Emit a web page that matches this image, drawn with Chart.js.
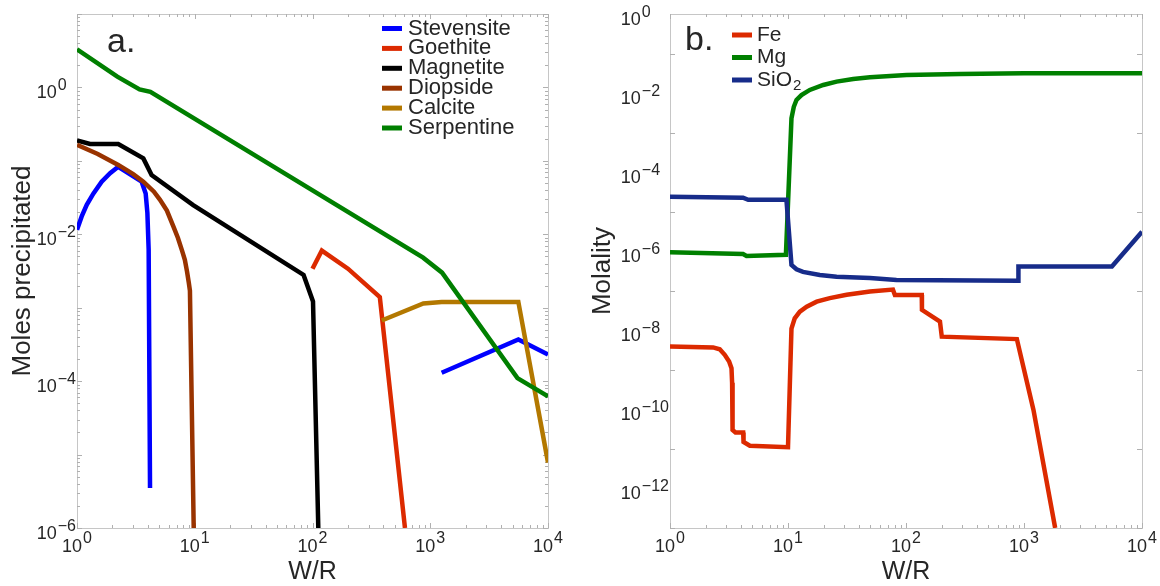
<!DOCTYPE html>
<html>
<head>
<meta charset="utf-8">
<script src="https://cdn.jsdelivr.net/npm/chart.js@4.4.1/dist/chart.umd.min.js"></script>
<style>
  body { margin: 0; background: #fff; }
  #wrap { position: relative; width: 1160px; height: 586px; }
  .panel { position: absolute; top: 0; width: 580px; height: 586px; }
</style>
</head>
<body>
<div id="wrap">
  <div class="panel" style="left:0"><canvas id="chartA" width="580" height="586"></canvas></div>
  <div class="panel" style="left:580px"><canvas id="chartB" width="580" height="586"></canvas></div>
</div>
<script>
// (a) moles precipitated, pairs of [W/R, moles]
var stevensite = [[1, 0.0115], [1.096, 0.0175], [1.21, 0.0252], [1.38, 0.036], [1.62, 0.052], [1.91, 0.068],
                  [2.24, 0.083], [3.54, 0.052], [3.83, 0.036], [3.96, 0.0196], [4.06, 0.0062], [4.17, 3.5e-6],
                  [1000, null], [1250, 1.3e-4], [5600, 3.7e-4], [10000, 2.3e-4]];
var goethite = [[100, 0.0034], [120, 0.006], [200, 0.0034], [373, 0.0014], [610, 1e-6]];
var magnetite = [[1, 0.19], [1.29, 0.17], [2.24, 0.17], [3.66, 0.108], [4.3, 0.064], [9.7, 0.025],
                 [84, 0.0028], [101, 0.00122], [112, 1e-6]];
var diopside = [[1, 0.165], [1.5, 0.124], [2.24, 0.088], [3, 0.066], [3.66, 0.052], [4.5, 0.038], [5.07, 0.0295],
                [5.8, 0.021], [6.58, 0.0128], [7.2, 0.0089], [7.8, 0.006], [8.24, 0.0045], [8.6, 0.0031],
                [8.9, 0.0022], [9.1, 0.0017], [9.8, 1e-6]];
var calcite = [[387, 6.7e-4], [874, 0.00114], [1250, 0.0012], [5600, 0.0012], [10000, 7.8e-6]];
var serpentine = [[1, 3.3], [2.2, 1.4], [3.4, 0.94], [4.2, 0.87], [870, 0.0048], [1260, 0.003],
                  [5500, 1.1e-4], [10000, 6.2e-5]];

// (b) molality, pairs of [W/R, mol/kg]
var fe = [[1, 3.9e-9], [2.32, 3.7e-9], [2.64, 3.3e-9], [2.91, 2.4e-9], [3.17, 1.62e-9], [3.32, 1.1e-9],
          [3.36, 4.7e-10], [3.39, 3.0e-11], [3.59, 2.6e-11], [4.17, 2.6e-11], [4.2, 1.5e-11], [4.75, 1.2e-11],
          [10.0, 1.1e-11], [10.7, 1.1e-8], [11.4, 2.0e-8], [12.6, 2.95e-8], [14.4, 3.96e-8], [17.5, 5.3e-8],
          [22.6, 6.5e-8], [31.4, 7.9e-8], [49.5, 9.6e-8], [77.5, 1.07e-7], [80.5, 7.85e-8], [136, 7.85e-8],
          [136.5, 3.3e-8], [194, 1.66e-8], [201, 6.9e-9], [870, 6.0e-9], [1203, 9.7e-11], [1837, 1e-13]];
var mg = [[1, 9.4e-7], [4.16, 8.5e-7], [4.45, 7.6e-7], [9.6, 8.1e-7], [10.7, 2.3e-3], [11.2, 4.5e-3],
          [11.8, 6.7e-3], [13.0, 8.9e-3], [15.3, 0.012], [19.9, 0.016], [25.8, 0.0195], [35.7, 0.0227],
          [49.5, 0.025], [101, 0.0287], [287, 0.0304], [1000, 0.0316], [10000, 0.0316]];
var sio2 = [[1, 2.4e-5], [4.16, 2.26e-5], [4.6, 2.0e-5], [9.7, 2.0e-5], [10.7, 4.5e-7], [11.8, 3.5e-7],
            [13.4, 3.0e-7], [18.6, 2.5e-7], [25.8, 2.26e-7], [49.5, 2.1e-7], [83, 1.87e-7], [895, 1.78e-7],
            [897, 4.1e-7], [5560, 4.1e-7], [10000, 3.1e-6]];

// labelled powers of ten
var xTickExps = [0, 1, 2, 3, 4];
var yTickExpsA = [0, -2, -4, -6];
var yTickExpsB = [0, -2, -4, -6, -8, -10, -12];

var FONT = '"Liberation Sans", Arial, Helvetica, sans-serif';
var INK = '#262626';

Chart.defaults.font.family = FONT;
Chart.defaults.color = INK;

function pts(arr) {
  return arr.map(function (p) { return { x: p[0], y: p[1] }; });
}

function expText(e) {
  return e < 0 ? '\u2212' + (-e) : String(e);
}

// width of "10" + superscript
function powWidth(ctx, e) {
  ctx.font = '18px ' + FONT;
  var w = ctx.measureText('10').width;
  ctx.font = '16px ' + FONT;
  return w + 1 + ctx.measureText(expText(e)).width;
}

function drawPow(ctx, e, x, base, sup) {
  ctx.font = '18px ' + FONT;
  ctx.fillText('10', x, base);
  var w = ctx.measureText('10').width;
  ctx.font = '16px ' + FONT;
  ctx.fillText(expText(e), x + w + 1, sup);
}

function decades(lo, hi, step, minors) {
  var out = [];
  for (var e = lo; e <= hi; e += step) {
    out.push({ v: Math.pow(10, e), major: true });
    if (minors && e < hi) {
      for (var k = 2; k < 10; k++) out.push({ v: k * Math.pow(10, e), major: false });
    }
  }
  return out;
}

// box, inward ticks on all four sides, and 10^n tick labels
var logFrame = {
  id: 'logFrame',
  beforeDatasetsDraw: function (chart, args, o) {
    var ctx = chart.ctx, a = chart.chartArea, xs = chart.scales.x, ys = chart.scales.y;
    ctx.save();
    ctx.strokeStyle = '#c6c6c6';
    ctx.lineWidth = 1;
    ctx.strokeRect(Math.round(a.left) + 0.5, Math.round(a.top) + 0.5,
                   Math.round(a.right - a.left), Math.round(a.bottom - a.top));

    ctx.strokeStyle = '#b0b0b0';
    ctx.beginPath();
    decades(Math.round(Math.log10(xs.min)), Math.round(Math.log10(xs.max)), 1, true).forEach(function (t) {
      var px = Math.round(xs.getPixelForValue(t.v)) + 0.5, len = t.major ? 5 : 3;
      ctx.moveTo(px, a.bottom); ctx.lineTo(px, a.bottom - len);
      ctx.moveTo(px, a.top); ctx.lineTo(px, a.top + len);
    });
    decades(Math.round(Math.log10(ys.min)), Math.round(Math.log10(ys.max)), o.yStep, o.yMinor).forEach(function (t) {
      var py = Math.round(ys.getPixelForValue(t.v)) + 0.5, len = t.major ? 5 : 3;
      ctx.moveTo(a.left, py); ctx.lineTo(a.left + len, py);
      ctx.moveTo(a.right, py); ctx.lineTo(a.right - len, py);
    });
    ctx.stroke();

    ctx.fillStyle = INK;
    ctx.textBaseline = 'alphabetic';
    o.xLabels.forEach(function (e) {
      var px = xs.getPixelForValue(Math.pow(10, e));
      var w = powWidth(ctx, e);
      drawPow(ctx, e, px - w / 2, a.bottom + 23.5, a.bottom + 15);
    });
    var maxW = 0;
    o.yLabels.forEach(function (e) { maxW = Math.max(maxW, powWidth(ctx, e)); });
    o.yLabels.forEach(function (e) {
      var py = ys.getPixelForValue(Math.pow(10, e));
      drawPow(ctx, e, a.left - maxW - 1, py + 10.5, py + 2.5);
    });

    if (o.tag) {
      ctx.font = '34px ' + FONT;
      ctx.fillText(o.tag.text, o.tag.x, o.tag.y);
    }
    ctx.restore();
  }
};

// legend drawn inside the axes box
var boxLegend = {
  id: 'boxLegend',
  afterDatasetsDraw: function (chart, args, o) {
    var ctx = chart.ctx;
    ctx.save();
    ctx.textBaseline = 'middle';
    chart.data.datasets.forEach(function (ds, i) {
      var y = o.y + i * o.step;
      ctx.strokeStyle = ds.borderColor;
      ctx.lineWidth = 5;
      ctx.beginPath();
      ctx.moveTo(o.x, y);
      ctx.lineTo(o.x + 20, y);
      ctx.stroke();
      ctx.fillStyle = INK;
      var tx = o.x + 20 + o.gap;
      var m = /^(.*?[A-Za-z])(\d+)$/.exec(ds.label);
      ctx.font = o.size + 'px ' + FONT;
      if (m) {
        ctx.fillText(m[1], tx, y);
        var w = ctx.measureText(m[1]).width;
        ctx.font = '15px ' + FONT;
        ctx.fillText(m[2], tx + w + 1, y + 6);
      } else {
        ctx.fillText(ds.label, tx, y);
      }
    });
    ctx.restore();
  }
};

function lineSet(label, arr, color, i, n) {
  return {
    label: label,
    data: pts(arr),
    borderColor: color,
    backgroundColor: color,
    borderWidth: 4.5,
    pointRadius: 0,
    tension: 0,
    spanGaps: false,
    clip: 0,
    order: n - i
  };
}

function logAxes(yMin, yMax, yWidth, yTitle) {
  return {
    x: {
      type: 'logarithmic', min: 1, max: 10000,
      grid: { display: false }, border: { display: false },
      ticks: { display: false },
      title: { display: true, text: 'W/R', font: { size: 25 }, color: INK, padding: { top: 0, bottom: -1 } },
      afterFit: function (s) { s.height = 58; }
    },
    y: {
      type: 'logarithmic', min: yMin, max: yMax,
      grid: { display: false }, border: { display: false },
      ticks: { display: false },
      title: { display: true, text: yTitle, font: { size: 26 }, color: INK, padding: { top: 7, bottom: 0 } },
      afterFit: function (s) { s.width = yWidth; }
    }
  };
}

var namesA = ['Stevensite', 'Goethite', 'Magnetite', 'Diopside', 'Calcite', 'Serpentine'];
var seriesA = [stevensite, goethite, magnetite, diopside, calcite, serpentine];
var colorsA = ['#0000ff', '#dc2a00', '#000000', '#993300', '#b37800', '#007f00'];

new Chart(document.getElementById('chartA'), {
  type: 'line',
  data: {
    datasets: seriesA.map(function (s, i) { return lineSet(namesA[i], s, colorsA[i], i, seriesA.length); })
  },
  options: {
    responsive: false,
    animation: false,
    devicePixelRatio: 1,
    layout: { padding: { left: 0, top: 14, right: 32, bottom: 0 } },
    scales: logAxes(1e-6, 10, 77, 'Moles precipitated'),
    plugins: {
      legend: { display: false },
      tooltip: { enabled: false },
      logFrame: { yStep: 1, yMinor: true, xLabels: xTickExps, yLabels: yTickExpsA, tag: { text: 'a.', x: 107, y: 52 } },
      boxLegend: { x: 382, y: 28.5, step: 19.9, gap: 6, size: 22 }
    }
  },
  plugins: [logFrame, boxLegend]
});

var namesB = ['Fe', 'Mg', 'SiO2'];
var seriesB = [fe, mg, sio2];
var colorsB = ['#dc2a00', '#008000', '#172c8a'];

new Chart(document.getElementById('chartB'), {
  type: 'line',
  data: {
    datasets: seriesB.map(function (s, i) { return lineSet(namesB[i], s, colorsB[i], i, seriesB.length); })
  },
  options: {
    responsive: false,
    animation: false,
    devicePixelRatio: 1,
    layout: { padding: { left: 0, top: 14, right: 18, bottom: 0 } },
    scales: logAxes(1e-13, 1, 90, 'Molality'),
    plugins: {
      legend: { display: false },
      tooltip: { enabled: false },
      logFrame: { yStep: 2, yMinor: false, xLabels: xTickExps, yLabels: yTickExpsB, tag: { text: 'b.', x: 105, y: 50 } },
      boxLegend: { x: 152, y: 35, step: 22.5, gap: 5, size: 21 }
    }
  },
  plugins: [logFrame, boxLegend]
});
</script>
</body>
</html>
